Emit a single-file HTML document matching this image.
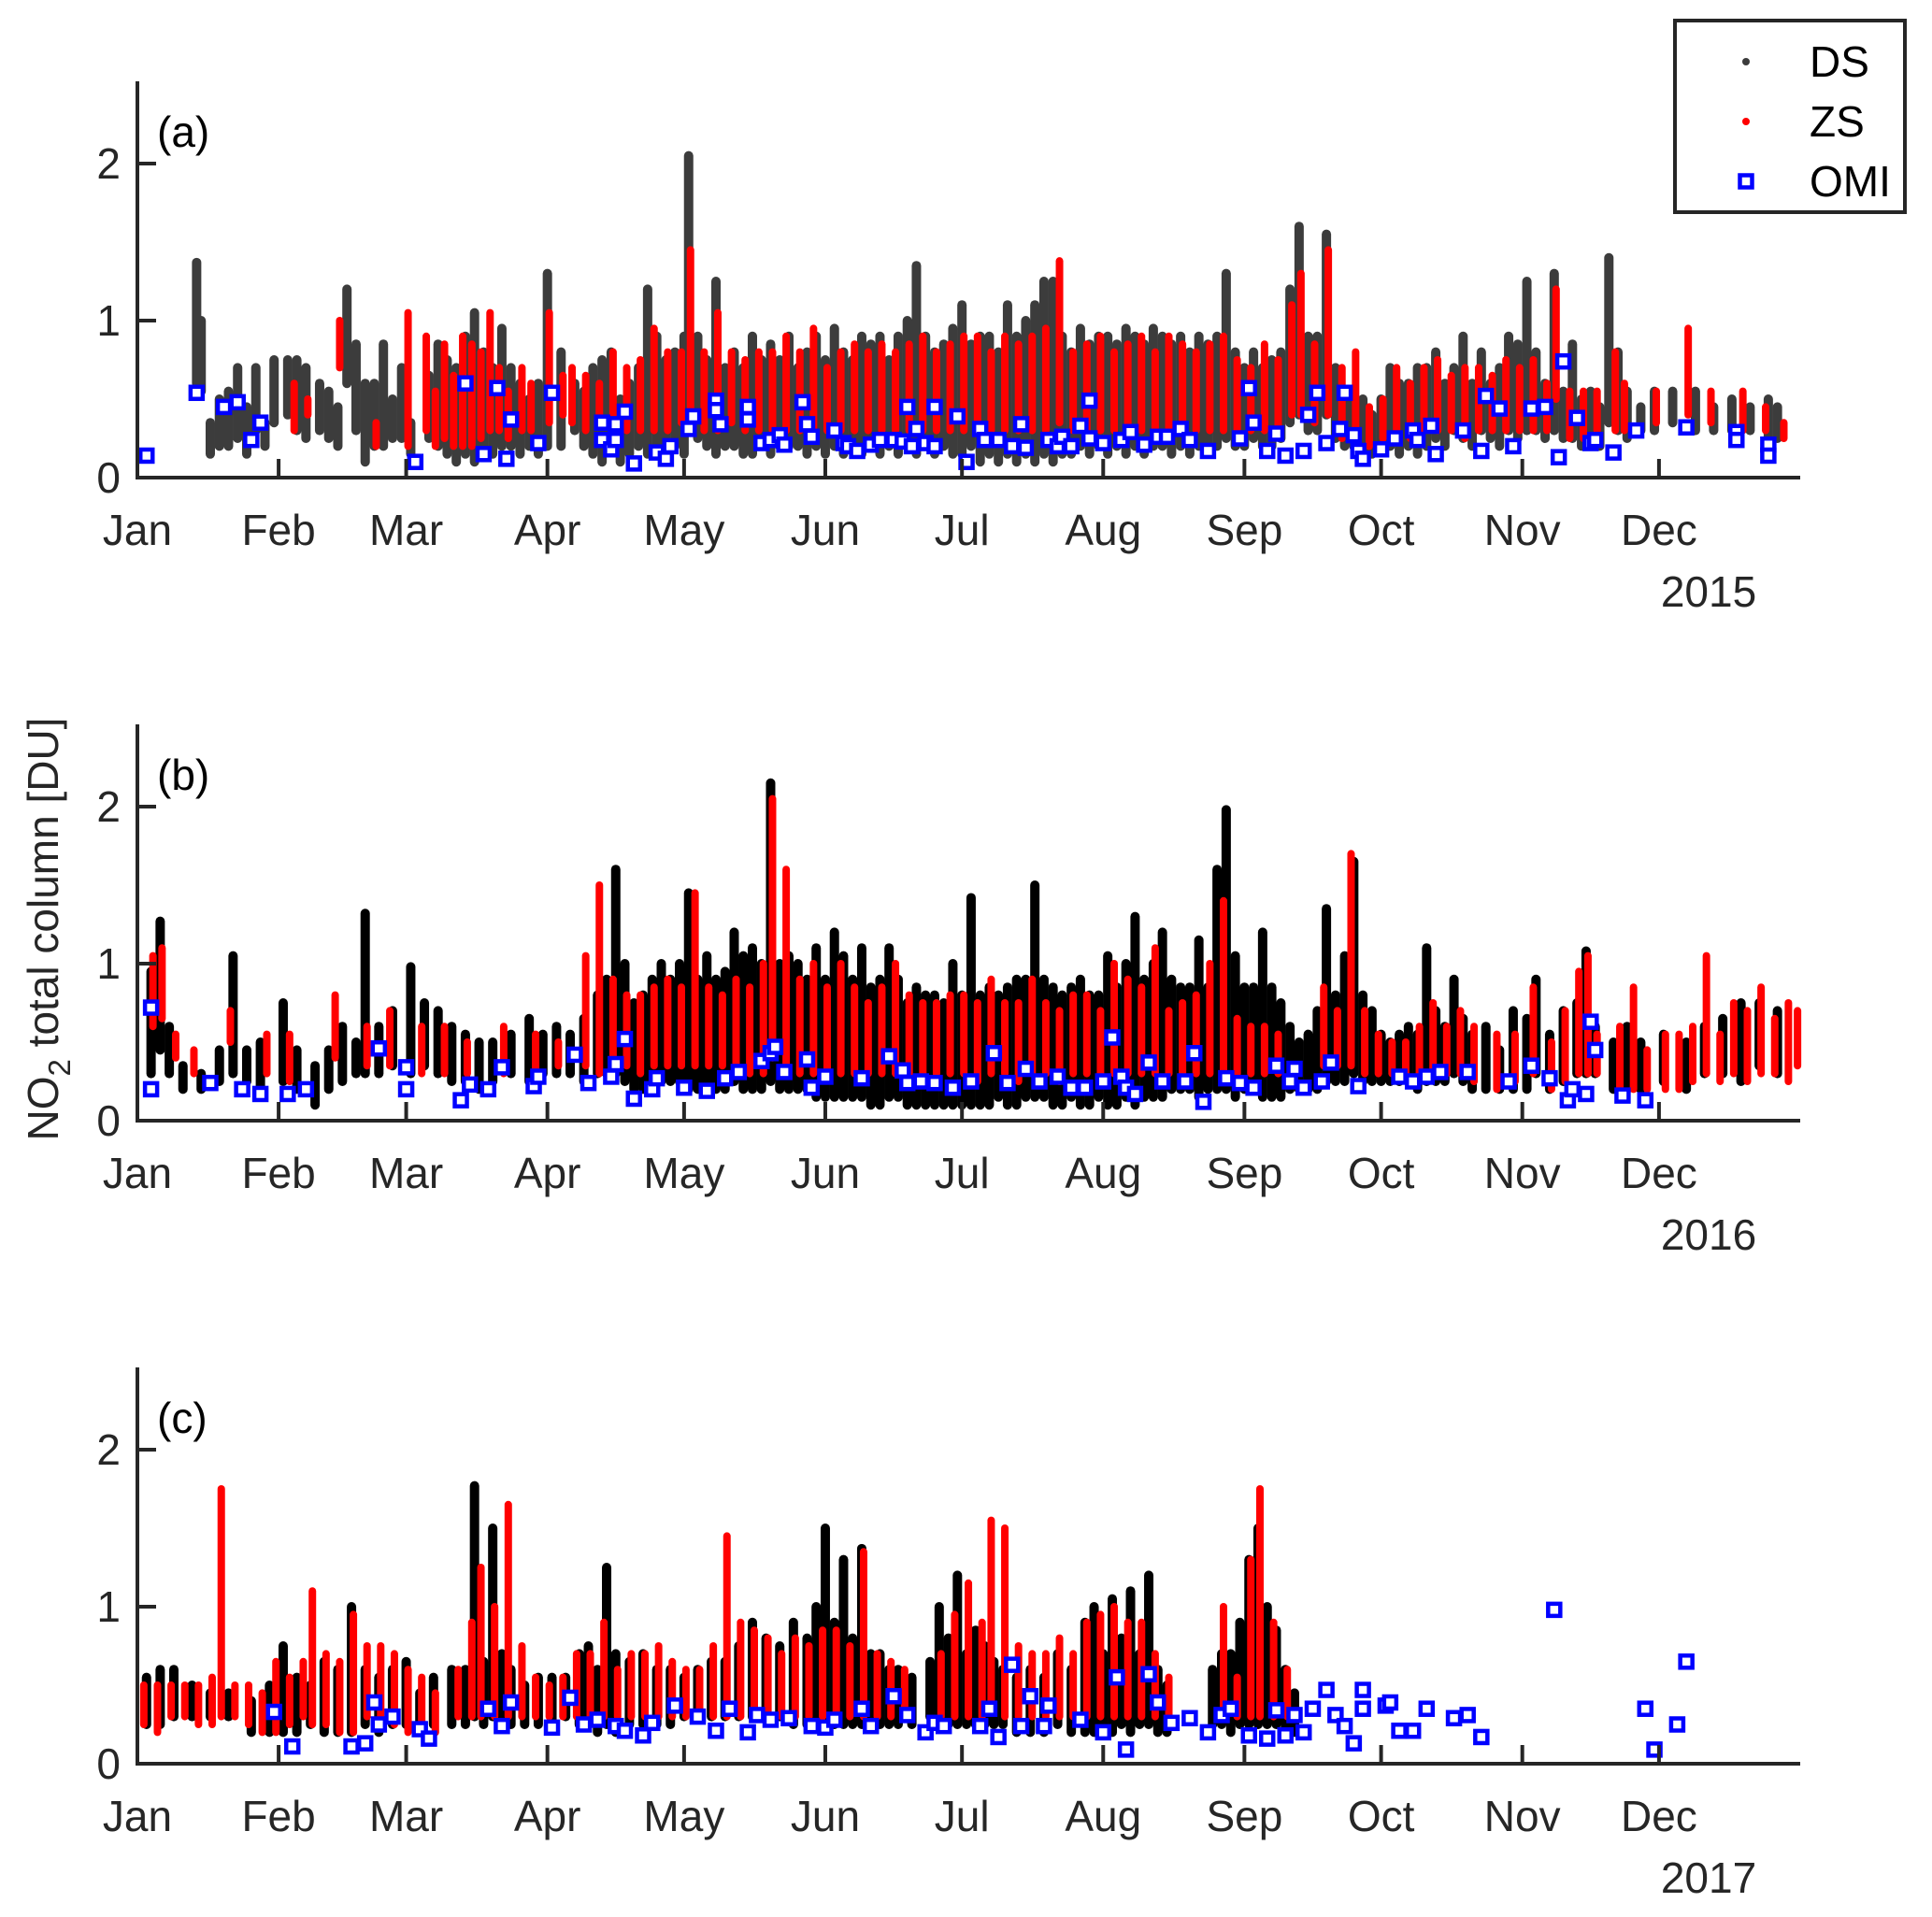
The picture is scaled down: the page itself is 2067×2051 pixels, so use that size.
<!DOCTYPE html>
<html><head><meta charset="utf-8"><style>
html,body{margin:0;padding:0;background:#fff;}
svg{display:block;font-family:"Liberation Sans",Arial,sans-serif;}
</style></head><body>
<svg id="chart" width="2067" height="2051" viewBox="0 0 2067 2051" xmlns="http://www.w3.org/2000/svg">
<rect x="0" y="0" width="2067" height="2051" fill="#fff"/>
<g id="layer"></g>
</svg>
<script>
// ---- data ----
const monthLabels = ["Jan","Feb","Mar","Apr","May","Jun","Jul","Aug","Sep","Oct","Nov","Dec"];
const monthStarts = [0,31,59,90,120,151,181,212,243,273,304,334];
const yTicks = [0,1,2];
const years = ["2015","2016","2017"];
const panelLabels = ["(a)","(b)","(c)"];

// DS spans [day, low, high]
const dsA = [[13,0.6,1.37],[14,0.55,1.0],[16,0.15,0.35],[18,0.2,0.5],[20,0.2,0.55],[22,0.25,0.7],[24,0.15,0.45],[26,0.3,0.7],[28,0.2,0.35],[30,0.35,0.75],[33,0.4,0.75],[35,0.3,0.75],[37,0.25,0.7],[40,0.3,0.6],[42,0.25,0.55],[44,0.2,0.45],[46,0.6,1.2],[48,0.3,0.85],[50,0.1,0.6],[52,0.2,0.6],[54,0.2,0.85],[56,0.25,0.5],[58,0.25,0.7],[60,0.15,0.35],[64,0.25,0.65],[66,0.2,0.85],[68,0.15,0.75],[70,0.1,0.7],[72,0.15,0.9],[74,0.1,1.05],[76,0.2,0.8],[78,0.15,0.7],[80,0.2,0.95],[82,0.2,0.7],[84,0.15,0.6],[86,0.2,0.5],[88,0.15,0.6],[90,0.2,1.3],[93,0.2,0.8],[96,0.3,0.6],[98,0.2,0.55],[100,0.15,0.7],[102,0.1,0.75],[104,0.2,0.8],[106,0.1,0.5],[108,0.15,0.6],[110,0.2,0.7],[112,0.15,1.2],[114,0.2,0.9],[116,0.15,0.75],[118,0.2,0.8],[120,0.15,0.9],[121,0.3,2.05],[123,0.25,0.9],[125,0.2,0.75],[127,0.15,1.25],[129,0.2,0.7],[131,0.2,0.8],[133,0.15,0.7],[135,0.15,0.9],[137,0.2,0.75],[139,0.15,0.85],[141,0.2,0.75],[143,0.2,0.9],[145,0.2,0.7],[147,0.15,0.8],[149,0.2,0.9],[151,0.15,0.75],[153,0.2,0.95],[155,0.15,0.8],[157,0.2,0.75],[159,0.15,0.9],[161,0.2,0.85],[163,0.15,0.9],[165,0.2,0.75],[167,0.15,0.9],[169,0.2,1.0],[171,0.15,1.35],[173,0.2,0.9],[175,0.15,0.8],[177,0.2,0.85],[179,0.15,0.95],[181,0.15,1.1],[183,0.2,0.85],[185,0.1,0.9],[187,0.15,0.9],[189,0.1,0.8],[191,0.15,1.1],[193,0.1,0.9],[195,0.15,1.0],[197,0.1,1.1],[199,0.15,1.25],[201,0.1,1.25],[203,0.15,0.9],[205,0.15,0.8],[207,0.2,0.95],[209,0.15,0.85],[211,0.2,0.9],[213,0.15,0.9],[215,0.2,0.85],[217,0.15,0.95],[219,0.2,0.9],[221,0.15,0.85],[223,0.2,0.95],[225,0.2,0.9],[227,0.15,0.85],[229,0.2,0.9],[231,0.15,0.8],[233,0.2,0.9],[235,0.2,0.85],[237,0.2,0.9],[239,0.25,1.3],[241,0.2,0.8],[243,0.2,0.7],[245,0.25,0.8],[247,0.2,0.7],[249,0.2,0.75],[251,0.25,0.8],[253,0.35,1.2],[255,0.4,1.6],[257,0.3,0.9],[259,0.3,0.9],[261,0.4,1.55],[263,0.25,0.7],[265,0.2,0.5],[267,0.2,0.55],[269,0.15,0.5],[271,0.15,0.4],[273,0.2,0.5],[275,0.2,0.7],[277,0.15,0.6],[279,0.2,0.6],[281,0.15,0.7],[283,0.2,0.7],[285,0.25,0.8],[287,0.2,0.6],[289,0.3,0.7],[291,0.25,0.9],[293,0.2,0.6],[295,0.3,0.8],[297,0.25,0.6],[299,0.2,0.7],[301,0.3,0.9],[303,0.25,0.85],[305,0.3,1.25],[307,0.3,0.8],[309,0.25,0.6],[311,0.3,1.3],[313,0.25,0.55],[315,0.25,0.85],[317,0.2,0.5],[319,0.3,0.55],[321,0.2,0.45],[323,0.35,1.4],[325,0.3,0.8],[327,0.25,0.55],[330,0.3,0.45],[333,0.3,0.55],[337,0.35,0.55],[342,0.3,0.55],[346,0.3,0.45],[350,0.3,0.5],[354,0.3,0.45],[358,0.25,0.5],[360,0.25,0.45]];
const zsA = [[34,0.3,0.6],[37,0.4,0.5],[44,0.7,1.0],[52,0.2,0.35],[59,0.2,1.05],[63,0.3,0.9],[65,0.2,0.55],[67,0.25,0.85],[69,0.2,0.65],[71,0.2,0.9],[73,0.2,0.85],[75,0.25,0.8],[77,0.3,1.05],[79,0.3,0.7],[81,0.25,0.55],[84,0.3,0.7],[86,0.3,0.6],[90,0.35,1.05],[93,0.4,0.65],[95,0.35,0.7],[98,0.3,0.65],[101,0.35,0.6],[104,0.3,0.8],[107,0.3,0.7],[110,0.3,0.75],[113,0.3,0.95],[116,0.3,0.8],[119,0.35,0.8],[121,0.4,1.45],[124,0.3,0.8],[127,0.3,1.05],[130,0.35,0.8],[133,0.3,0.75],[136,0.3,0.8],[139,0.3,0.8],[142,0.3,0.9],[145,0.3,0.8],[148,0.3,0.95],[151,0.3,0.7],[154,0.3,0.8],[157,0.3,0.85],[160,0.3,0.8],[163,0.3,0.85],[166,0.3,0.8],[169,0.3,0.85],[172,0.3,0.9],[175,0.3,0.8],[178,0.3,0.85],[181,0.3,0.9],[184,0.3,0.9],[187,0.3,0.8],[190,0.3,0.9],[193,0.3,0.85],[196,0.3,0.9],[199,0.3,0.95],[202,0.35,1.38],[205,0.3,0.8],[208,0.3,0.85],[211,0.3,0.9],[214,0.3,0.8],[217,0.3,0.85],[220,0.3,0.9],[223,0.3,0.8],[226,0.3,0.9],[229,0.3,0.85],[232,0.3,0.8],[235,0.3,0.85],[238,0.3,0.9],[241,0.3,0.75],[244,0.3,0.7],[247,0.3,0.85],[250,0.3,0.75],[253,0.4,1.1],[255,0.4,1.3],[258,0.35,0.85],[261,0.4,1.45],[264,0.25,0.7],[267,0.25,0.8],[270,0.2,0.45],[273,0.25,0.5],[276,0.25,0.7],[279,0.25,0.6],[282,0.3,0.7],[285,0.3,0.75],[288,0.3,0.65],[291,0.25,0.7],[294,0.3,0.7],[297,0.3,0.65],[300,0.3,0.75],[303,0.3,0.7],[306,0.3,0.75],[309,0.3,0.6],[311,0.5,1.2],[314,0.25,0.55],[317,0.25,0.55],[320,0.3,0.55],[324,0.3,0.8],[326,0.3,0.6],[333,0.35,0.55],[340,0.4,0.95],[345,0.35,0.55],[352,0.3,0.55],[357,0.3,0.45],[361,0.25,0.35]];
const omiA = [[2,0.14],[13,0.54],[19,0.45],[22,0.48],[25,0.24],[27,0.35],[61,0.1],[72,0.6],[76,0.15],[79,0.57],[81,0.12],[82,0.37],[88,0.22],[91,0.54],[102,0.35],[102,0.24],[104,0.18],[105,0.24],[105,0.34],[107,0.42],[109,0.09],[114,0.16],[116,0.12],[117,0.2],[121,0.31],[122,0.39],[127,0.49],[127,0.43],[128,0.34],[134,0.45],[134,0.37],[137,0.22],[139,0.24],[141,0.27],[142,0.21],[146,0.48],[147,0.34],[148,0.26],[153,0.3],[155,0.22],[156,0.2],[158,0.17],[161,0.21],[163,0.24],[166,0.24],[168,0.23],[170,0.2],[169,0.45],[171,0.31],[173,0.22],[175,0.2],[175,0.45],[180,0.39],[182,0.1],[185,0.31],[186,0.24],[189,0.24],[192,0.2],[194,0.34],[195,0.19],[200,0.24],[202,0.2],[203,0.26],[205,0.2],[207,0.33],[209,0.25],[209,0.49],[212,0.22],[216,0.24],[218,0.29],[221,0.21],[224,0.26],[226,0.26],[229,0.31],[231,0.24],[235,0.17],[242,0.25],[244,0.57],[245,0.35],[248,0.17],[250,0.28],[252,0.14],[256,0.17],[257,0.4],[259,0.54],[261,0.22],[264,0.31],[265,0.54],[267,0.27],[268,0.17],[269,0.12],[273,0.18],[276,0.25],[280,0.3],[281,0.24],[284,0.33],[285,0.15],[291,0.3],[295,0.17],[296,0.52],[299,0.44],[302,0.2],[306,0.44],[309,0.45],[312,0.13],[313,0.74],[316,0.38],[319,0.22],[320,0.24],[324,0.16],[329,0.3],[340,0.32],[351,0.29],[351,0.24],[358,0.21],[358,0.14]];

const dsB = [[3,0.3,0.95],[5,0.45,1.27],[7,0.3,0.6],[10,0.2,0.35],[14,0.2,0.3],[18,0.25,0.45],[21,0.3,1.05],[24,0.25,0.45],[27,0.2,0.5],[32,0.25,0.75],[35,0.2,0.45],[39,0.1,0.35],[42,0.2,0.45],[45,0.25,0.6],[48,0.3,0.5],[50,0.3,1.32],[53,0.3,0.6],[56,0.35,0.7],[60,0.3,0.98],[63,0.35,0.75],[66,0.3,0.7],[69,0.25,0.6],[72,0.25,0.55],[75,0.2,0.5],[78,0.25,0.5],[82,0.3,0.55],[86,0.25,0.65],[89,0.3,0.55],[92,0.3,0.6],[95,0.3,0.55],[98,0.25,0.65],[101,0.3,0.8],[103,0.3,0.9],[105,0.3,1.6],[107,0.25,1.0],[109,0.2,0.75],[111,0.2,0.8],[113,0.25,0.9],[115,0.25,1.0],[117,0.25,0.9],[119,0.25,1.0],[121,0.2,1.45],[123,0.2,0.9],[125,0.2,1.05],[127,0.2,0.9],[129,0.2,0.95],[131,0.25,1.2],[133,0.2,1.05],[135,0.2,1.1],[137,0.2,1.0],[139,0.25,2.15],[141,0.2,1.0],[143,0.2,1.05],[145,0.2,1.0],[147,0.2,0.9],[149,0.15,1.1],[151,0.15,0.9],[153,0.15,1.2],[155,0.15,1.05],[157,0.15,0.9],[159,0.15,1.1],[161,0.1,0.85],[163,0.1,0.9],[165,0.15,1.1],[167,0.15,0.9],[169,0.1,0.75],[171,0.1,0.85],[173,0.1,0.8],[175,0.1,0.8],[177,0.1,0.75],[179,0.1,1.0],[181,0.1,0.8],[183,0.1,1.42],[185,0.1,0.8],[187,0.1,0.85],[189,0.15,0.8],[191,0.1,0.85],[193,0.1,0.9],[195,0.15,0.9],[197,0.15,1.5],[199,0.15,0.9],[201,0.1,0.85],[203,0.1,0.8],[205,0.15,0.85],[207,0.1,0.9],[209,0.1,0.8],[211,0.15,0.8],[213,0.1,1.05],[215,0.1,0.85],[217,0.15,1.0],[219,0.1,1.3],[221,0.15,0.9],[223,0.15,1.0],[225,0.15,1.2],[227,0.2,0.9],[229,0.2,0.85],[231,0.2,0.85],[233,0.15,1.15],[235,0.2,0.85],[237,0.2,1.6],[239,0.2,1.98],[241,0.15,1.05],[243,0.2,0.85],[245,0.2,0.85],[247,0.15,1.2],[249,0.15,0.85],[251,0.15,0.75],[253,0.2,0.6],[255,0.2,0.5],[257,0.2,0.55],[259,0.2,0.7],[261,0.25,1.35],[263,0.25,0.8],[265,0.25,1.05],[267,0.3,1.65],[269,0.25,0.8],[271,0.25,0.7],[273,0.25,0.55],[275,0.25,0.5],[277,0.25,0.55],[279,0.25,0.6],[281,0.2,0.55],[283,0.25,1.1],[285,0.25,0.7],[287,0.25,0.6],[289,0.3,0.9],[291,0.25,0.65],[293,0.2,0.55],[296,0.2,0.6],[299,0.2,0.45],[302,0.2,0.7],[305,0.2,0.65],[307,0.3,0.9],[310,0.2,0.55],[313,0.25,0.7],[316,0.3,0.75],[318,0.3,1.08],[320,0.3,0.6],[324,0.2,0.5],[327,0.2,0.6],[330,0.2,0.5],[335,0.25,0.55],[340,0.2,0.5],[344,0.3,0.6],[348,0.3,0.65],[352,0.25,0.75],[356,0.35,0.75],[360,0.3,0.7]];
const zsB = [[3,0.6,1.05],[5,0.65,1.1],[8,0.4,0.55],[12,0.3,0.45],[20,0.5,0.7],[28,0.3,0.55],[33,0.25,0.55],[43,0.4,0.8],[50,0.35,0.6],[55,0.35,0.7],[62,0.3,0.6],[67,0.3,0.6],[72,0.3,0.5],[80,0.3,0.6],[87,0.3,0.55],[92,0.35,0.5],[98,0.35,1.05],[101,0.3,1.5],[104,0.35,0.9],[107,0.35,0.8],[110,0.3,0.8],[113,0.35,0.85],[116,0.35,0.9],[119,0.35,0.85],[122,0.35,1.45],[125,0.35,0.85],[128,0.35,0.8],[131,0.3,0.9],[134,0.3,0.85],[137,0.3,1.0],[139,0.4,2.05],[142,0.35,1.6],[145,0.3,0.9],[148,0.3,1.0],[151,0.3,0.85],[154,0.3,1.0],[157,0.3,0.85],[160,0.3,0.75],[163,0.3,0.85],[166,0.3,1.0],[169,0.3,0.8],[172,0.3,0.75],[175,0.3,0.75],[178,0.3,0.8],[181,0.3,0.8],[184,0.25,0.75],[187,0.3,0.9],[190,0.3,0.75],[193,0.25,0.75],[196,0.3,0.9],[199,0.3,0.75],[202,0.25,0.7],[205,0.3,0.8],[208,0.3,0.8],[211,0.3,0.7],[214,0.3,1.0],[217,0.3,0.9],[220,0.3,0.85],[223,0.3,1.1],[226,0.3,0.7],[229,0.3,0.75],[232,0.3,0.8],[235,0.3,1.0],[238,0.3,1.4],[241,0.3,0.65],[244,0.3,0.6],[247,0.3,0.6],[250,0.3,0.55],[260,0.35,0.85],[263,0.35,0.7],[266,0.35,1.7],[269,0.3,0.7],[272,0.3,0.55],[275,0.3,0.5],[278,0.3,0.5],[281,0.3,0.6],[284,0.3,0.75],[287,0.3,0.6],[290,0.3,0.7],[293,0.25,0.6],[298,0.2,0.55],[302,0.25,0.55],[306,0.3,0.85],[310,0.2,0.5],[313,0.25,0.7],[316,0.3,0.95],[318,0.3,1.05],[320,0.3,0.55],[325,0.15,0.6],[328,0.2,0.85],[331,0.2,0.45],[335,0.2,0.55],[338,0.2,0.55],[341,0.25,0.6],[344,0.3,1.05],[347,0.25,0.55],[350,0.3,0.75],[353,0.25,0.7],[356,0.3,0.85],[359,0.3,0.65],[362,0.25,0.75],[364,0.35,0.7]];
const omiB = [[3,0.72],[3,0.2],[16,0.24],[23,0.2],[27,0.17],[33,0.17],[37,0.2],[53,0.46],[59,0.2],[59,0.34],[71,0.13],[73,0.23],[77,0.2],[80,0.34],[87,0.22],[88,0.28],[96,0.42],[99,0.24],[104,0.28],[105,0.36],[107,0.52],[109,0.14],[113,0.2],[114,0.27],[120,0.21],[125,0.19],[129,0.27],[132,0.31],[137,0.38],[139,0.43],[140,0.47],[142,0.31],[147,0.39],[148,0.21],[151,0.28],[159,0.27],[165,0.41],[168,0.32],[169,0.24],[172,0.25],[175,0.24],[179,0.21],[183,0.25],[188,0.43],[191,0.24],[195,0.33],[198,0.25],[202,0.28],[205,0.21],[208,0.21],[212,0.25],[214,0.53],[216,0.28],[217,0.21],[219,0.17],[222,0.37],[225,0.25],[230,0.25],[232,0.43],[234,0.12],[239,0.27],[242,0.24],[245,0.21],[250,0.35],[253,0.25],[254,0.33],[256,0.21],[260,0.25],[262,0.37],[268,0.22],[277,0.28],[280,0.25],[283,0.28],[286,0.31],[292,0.31],[301,0.25],[306,0.35],[310,0.27],[314,0.13],[315,0.2],[318,0.17],[319,0.63],[320,0.45],[326,0.16],[331,0.13]];

const dsC = [[2,0.25,0.55],[5,0.25,0.6],[8,0.3,0.6],[12,0.3,0.5],[16,0.3,0.45],[20,0.3,0.45],[25,0.2,0.4],[29,0.2,0.5],[32,0.2,0.75],[35,0.2,0.55],[38,0.25,0.5],[41,0.2,0.65],[44,0.2,0.6],[47,0.2,1.0],[50,0.25,0.6],[53,0.2,0.55],[56,0.25,0.6],[59,0.25,0.65],[62,0.2,0.45],[65,0.25,0.55],[69,0.25,0.6],[72,0.25,0.6],[74,0.3,1.77],[76,0.25,0.65],[78,0.3,1.5],[80,0.25,0.7],[82,0.25,0.6],[85,0.25,0.5],[88,0.25,0.55],[91,0.25,0.55],[94,0.3,0.55],[97,0.25,0.7],[99,0.25,0.75],[101,0.2,0.6],[103,0.25,1.25],[105,0.2,0.7],[108,0.25,0.65],[111,0.25,0.7],[114,0.25,0.6],[117,0.25,0.6],[120,0.3,0.55],[123,0.3,0.6],[126,0.3,0.65],[129,0.3,0.65],[132,0.3,0.75],[135,0.3,0.9],[138,0.3,0.8],[141,0.3,0.75],[144,0.25,0.9],[147,0.25,0.8],[149,0.25,1.0],[151,0.25,1.5],[153,0.25,0.9],[155,0.25,1.3],[157,0.25,0.8],[159,0.25,1.37],[161,0.25,0.7],[163,0.25,0.7],[165,0.25,0.6],[167,0.25,0.6],[170,0.25,0.55],[174,0.3,0.65],[176,0.3,1.0],[178,0.25,0.8],[180,0.25,1.2],[182,0.25,0.7],[184,0.25,0.85],[186,0.25,0.75],[188,0.25,0.65],[190,0.25,0.6],[193,0.2,0.55],[196,0.2,0.6],[199,0.2,0.55],[202,0.25,0.7],[205,0.2,0.6],[208,0.2,0.9],[210,0.2,1.0],[212,0.2,0.7],[214,0.2,1.05],[216,0.25,0.8],[218,0.2,1.1],[220,0.25,0.7],[222,0.25,1.2],[224,0.2,0.6],[226,0.2,0.5],[236,0.25,0.6],[238,0.25,0.7],[240,0.2,0.7],[242,0.25,0.9],[244,0.25,1.3],[246,0.25,1.5],[248,0.25,1.0],[250,0.25,0.85],[252,0.2,0.6],[254,0.2,0.45]];
const zsC = [[1,0.25,0.5],[4,0.2,0.5],[7,0.3,0.5],[10,0.3,0.5],[13,0.25,0.5],[16,0.25,0.55],[18,0.3,1.75],[21,0.3,0.5],[24,0.25,0.5],[27,0.2,0.45],[30,0.2,0.65],[33,0.25,0.55],[36,0.3,0.65],[38,0.25,1.1],[41,0.25,0.7],[44,0.2,0.65],[47,0.2,0.95],[50,0.3,0.75],[53,0.25,0.75],[56,0.25,0.7],[59,0.2,0.6],[62,0.25,0.55],[65,0.2,0.45],[70,0.3,0.6],[73,0.3,0.9],[75,0.3,1.25],[78,0.3,1.0],[81,0.3,1.65],[84,0.3,0.75],[87,0.3,0.55],[90,0.3,0.5],[93,0.3,0.55],[96,0.3,0.7],[99,0.3,0.7],[102,0.3,0.9],[105,0.3,0.6],[108,0.3,0.7],[111,0.3,0.7],[114,0.3,0.75],[117,0.3,0.65],[120,0.3,0.6],[123,0.3,0.6],[126,0.3,0.75],[129,0.3,1.45],[132,0.3,0.9],[135,0.3,0.85],[138,0.3,0.8],[141,0.3,0.7],[144,0.3,0.8],[147,0.3,0.75],[150,0.3,0.85],[153,0.3,0.85],[156,0.3,0.75],[159,0.3,1.35],[162,0.3,0.7],[165,0.3,0.65],[168,0.3,0.6],[176,0.3,0.7],[179,0.3,0.95],[182,0.3,1.15],[185,0.3,0.9],[187,0.35,1.55],[190,0.3,1.5],[193,0.3,0.75],[196,0.3,0.7],[199,0.3,0.7],[202,0.3,0.8],[205,0.3,0.7],[208,0.3,0.9],[211,0.3,0.95],[214,0.3,1.0],[217,0.3,0.9],[220,0.3,0.9],[223,0.3,0.7],[226,0.3,0.55],[238,0.35,1.0],[241,0.3,0.55],[244,0.3,1.3],[246,0.3,1.75],[249,0.3,0.9],[252,0.3,0.6]];
const omiC = [[30,0.33],[34,0.11],[47,0.11],[50,0.13],[52,0.39],[53,0.25],[56,0.3],[62,0.22],[64,0.16],[77,0.35],[80,0.24],[82,0.39],[91,0.23],[95,0.42],[98,0.25],[101,0.28],[105,0.24],[107,0.21],[111,0.18],[113,0.26],[118,0.37],[123,0.3],[127,0.21],[130,0.35],[134,0.2],[136,0.31],[139,0.28],[143,0.29],[148,0.24],[151,0.23],[153,0.28],[159,0.35],[161,0.24],[166,0.43],[169,0.31],[173,0.2],[175,0.26],[177,0.24],[185,0.24],[187,0.35],[189,0.17],[192,0.63],[194,0.24],[196,0.43],[199,0.24],[200,0.37],[207,0.28],[212,0.2],[215,0.55],[217,0.09],[222,0.57],[224,0.39],[227,0.26],[231,0.29],[235,0.2],[238,0.31],[240,0.35],[244,0.18],[248,0.16],[250,0.34],[252,0.18],[254,0.31],[256,0.2],[258,0.35],[261,0.47],[263,0.31],[265,0.24],[267,0.13],[269,0.47],[269,0.35],[274,0.37],[275,0.39],[277,0.21],[280,0.21],[283,0.35],[289,0.29],[292,0.31],[295,0.17],[311,0.98],[331,0.35],[333,0.09],[338,0.25],[340,0.65]];

const panels = [
  {ds: dsA, zs: zsA, omi: omiA, dsColor: "#3c3c3c"},
  {ds: dsB, zs: zsB, omi: omiB, dsColor: "#000000"},
  {ds: dsC, zs: zsC, omi: omiC, dsColor: "#000000"}
];

// ---- layout ----
const NS = "http://www.w3.org/2000/svg";
const X0 = 147, X1 = 1926, DAYS = 365;
const ZERO = [511, 1199, 1887];
const UNIT = 168;
const AXTOP = 87;
const FS = 46;
const layer = document.getElementById('layer');
function xScale(d){ return X0 + d * (X1 - X0) / DAYS; }
function yScale(p, v){ return ZERO[p] - v * UNIT; }
function mk(tag, attrs, parent){
  const e = document.createElementNS(NS, tag);
  for (const k in attrs) e.setAttribute(k, attrs[k]);
  (parent || layer).appendChild(e);
  return e;
}

panels.forEach((P, p) => {
  const g = mk('g', {});
  
  
  const z = ZERO[p];
  const gds = mk('g', {}, g);
  
  
  P.ds.forEach(s => {
    const l = mk('line', {x1: xScale(s[0]), x2: xScale(s[0]), y1: yScale(p, s[1]), y2: yScale(p, s[2]), stroke: P.dsColor, 'stroke-width': 10, 'stroke-linecap': 'round'}, gds);
    
    
  });
  const gzs = mk('g', {}, g);
  
  
  P.zs.forEach(s => {
    const l = mk('line', {x1: xScale(s[0]) + 2, x2: xScale(s[0]) + 2, y1: yScale(p, s[1]), y2: yScale(p, s[2]), stroke: "#ff0000", 'stroke-width': 8, 'stroke-linecap': 'round'}, gzs);
    
    
  });
  const gom = mk('g', {}, g);
  
  
  P.omi.forEach(s => {
    const r = mk('rect', {x: xScale(s[0]) - 6.5, y: yScale(p, s[1]) - 6.5, width: 13, height: 13, fill: "#fff", stroke: "#0000ff", 'stroke-width': 4.5}, gom);
    
    
  });
  const ax = mk('path', {d: `M${X0},${AXTOP + (z - 511)} L${X0},${z} L${X1},${z}`, fill: "none", stroke: "#262626", 'stroke-width': 4}, g);
  
  
  yTicks.forEach(v => {
    const t = mk('line', {x1: X0, x2: X0 + 20, y1: yScale(p, v), y2: yScale(p, v), stroke: "#262626", 'stroke-width': 4}, g);
    
    
    const tl = mk('text', {x: 129, y: yScale(p, v) + 16, 'text-anchor': 'end', 'font-size': FS, fill: "#262626"}, g);
    tl.textContent = String(v);
    
    
  });
  monthStarts.forEach((d, i) => {
    const x = xScale(d);
    const t = mk('line', {x1: x, x2: x, y1: z, y2: z - 20, stroke: "#262626", 'stroke-width': 4}, g);
    
    
    const tl = mk('text', {x: x, y: z + 72, 'text-anchor': 'middle', 'font-size': FS, fill: "#262626"}, g);
    tl.textContent = monthLabels[i];
    
    
  });
  const yl = mk('text', {x: 1828, y: z + 138, 'text-anchor': 'middle', 'font-size': FS, fill: "#262626"}, g);
  yl.textContent = years[p];
  
  
  const pl = mk('text', {x: 168, y: z - 354, 'font-size': FS, fill: "#000"}, g);
  pl.textContent = panelLabels[p];
  
  
});

const yt = mk('text', {x: 0, y: 0, transform: 'translate(62,994) rotate(-90)', 'text-anchor': 'middle', 'font-size': FS, fill: "#262626"});
yt.innerHTML = 'NO<tspan dy="13" font-size="33">2</tspan><tspan dy="-13"> total column [DU]</tspan>';



const lg = mk('g', {});


const lb = mk('rect', {x: 1792, y: 22, width: 246, height: 205, fill: "#fff", stroke: "#262626", 'stroke-width': 4}, lg);


const e1 = mk('circle', {cx: 1868, cy: 66, r: 4, fill: "#3c3c3c"}, lg);


const e2 = mk('circle', {cx: 1868, cy: 130, r: 4, fill: "#ff0000"}, lg);


const e3 = mk('rect', {x: 1861.5, y: 187.5, width: 13, height: 13, fill: "#fff", stroke: "#0000ff", 'stroke-width': 4.5}, lg);


const lt1 = mk('text', {x: 1936, y: 82, 'font-size': FS, fill: "#000"}, lg); lt1.textContent = 'DS';


const lt2 = mk('text', {x: 1936, y: 146, 'font-size': FS, fill: "#000"}, lg); lt2.textContent = 'ZS';


const lt3 = mk('text', {x: 1936, y: 210, 'font-size': FS, fill: "#000"}, lg); lt3.textContent = 'OMI';


</script>
</body></html>
